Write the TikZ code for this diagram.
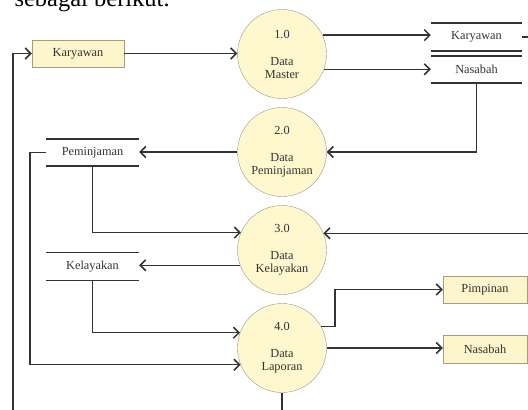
\documentclass[tikz,border=0pt]{standalone}
\usepackage{fontspec}
\setmainfont{Liberation Serif}
\usetikzlibrary{positioning, calc, arrows.meta}

\definecolor{cream}{HTML}{FFF7CE}
\definecolor{boxcream}{HTML}{FDF5CC}
\definecolor{rim}{HTML}{9A9A8E}
\definecolor{boxrim}{HTML}{A39C80}
\definecolor{ink}{HTML}{333333}

\begin{document}
\begin{tikzpicture}[x=1pt, y=-1pt,
		every node/.style={text=ink, font=\fontsize{12.3}{13}\selectfont},
		process/.style={circle, draw=rim, fill=cream, minimum size=89pt, inner sep=0pt, align=center},
		entity/.style={draw=boxrim, fill=boxcream, minimum width=84pt, minimum height=27pt, inner sep=0pt},
		store/.style={minimum width=93pt, minimum height=27pt, inner sep=0pt},
		storeline/.style={draw=ink, line width=1.5pt},
		flow/.style={draw=ink, line width=1.5pt, -{Straight Barb[length=5.5pt, width=11pt]}}]
			\useasboundingbox (0,0) rectangle (528,410);
			\clip (0,0) rectangle (528,410);
			
			\node[anchor=base west, text=black, font=\fontsize{24.5}{26}\selectfont] (intro) at (11,6) {sebagai berikut.};
			
			% processes
			\node[process] (p1) at (282,54) {1.0\\[14pt]Data\\Master};
			\node[process] (p2) at (282,152) {2.0\\[14pt]Data\\Peminjaman};
			\node[process] (p3) at (282,250) {3.0\\[14pt]Data\\Kelayakan};
			\node[process] (p4) at (282,348) {4.0\\[14pt]Data\\Laporan};
			
			% external entities
			\node[entity, minimum width=92pt] (kary) at (78,53.5) {Karyawan};
			\node[entity] (pim) at (485,289.5) {Pimpinan};
			\node[entity, minimum height=28pt] (nas) at (485,349) {Nasabah};
			
			% data stores
			\node[store, minimum width=91pt, minimum height=28pt] (dsKary) at (476.5,37) {Karyawan};
			\node[store, minimum width=91pt] (dsNas) at (476.5,69.5) {Nasabah};
			\node[store] (dsPem) at (92.5,152.5) {Peminjaman};
			\node[store, minimum height=28pt] (dsKel) at (92.5,266.5) {Kelayakan};
			\foreach \ds in {dsKary, dsNas, dsPem, dsKel}
				\draw[storeline] (\ds.north west) -- (\ds.north east) (\ds.south west) -- (\ds.south east);
			
			% flows
			\coordinate (loopB) at (13,425);
			\draw[flow] (p4.south) |- (loopB) |- (kary.west);
			\draw[flow] (kary.east) -- (kary.east -| p1.west);
			\draw[flow] (p1.25) -- (p1.25 -| dsKary.west);
			\draw[flow] (p1.-20) -- (p1.-20 -| dsNas.west);
			\draw[flow] (dsKary.east) -- ++(20,0) |- (p3.22.5);
			\draw[flow] (dsNas.south) |- (p2.east);
			\draw[flow] (p2.west) -- (p2.west -| dsPem.east);
			\draw[flow] (dsPem.south) |- (p3.157.5);
			\draw[flow] (dsPem.west) -- ++(-16,0) |- (p4.202);
			\draw[flow] (p3.200) -- (p3.200 -| dsKel.east);
			\draw[flow] (dsKel.south) |- (p4.160);
			\draw[flow] (p4.29) -- ++(14,0) |- (pim.west);
			\draw[flow] (p4.east) -- (p4.east -| nas.west);
		\end{tikzpicture}
\end{document}
